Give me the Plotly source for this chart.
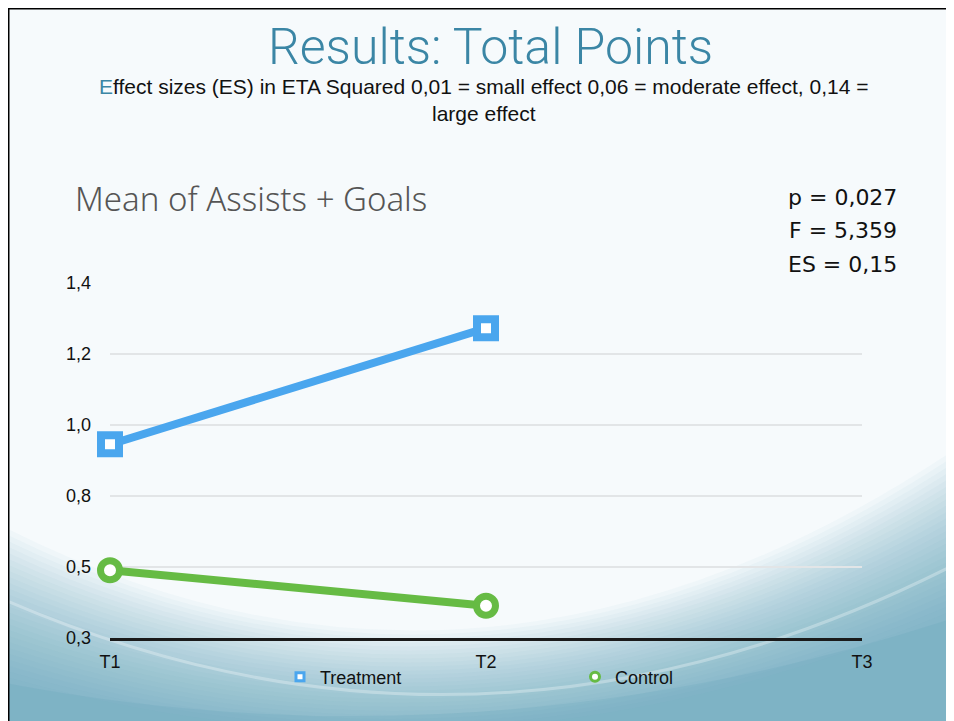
import plotly.graph_objects as go

# data
time_points = ["T1", "T2", "T3"]
treatment_x = ["T1", "T2"]
treatment = [0.90, 1.26]
control_x = ["T1", "T2"]
control = [0.51, 0.40]
y_tick_vals = [0.30, 0.52, 0.74, 0.96, 1.18, 1.40]
y_tick_text = ["0,3", "0,5", "0,8", "1,0", "1,2", "1,4"]
stats = ["p = 0,027", "F = 5,359", "ES = 0,15"]

# the page body adds an 8px margin, so work in screen pixels and shift
OFF = 8
W, H = 954 - OFF, 721 - OFF
L, R, T, B = 110, 862, 283, 638   # plot area in screen pixels


def px(x):
    return (x - L) / (R - L)


def py(y):
    return (B - y) / (B - T)


def P(x, y):
    return f"{px(x):.4f},{py(y):.4f}"


BLUE = "#4aa6ee"
GREEN = "#66bb44"
TEAL = "#3b86a5"

fig = go.Figure()

fig.add_trace(go.Scatter(
    x=treatment_x, y=treatment, mode="lines+markers", name="Treatment",
    line=dict(color=BLUE, width=8),
    marker=dict(symbol="square", size=18, color="white", line=dict(color=BLUE, width=8)),
    cliponaxis=False, showlegend=False,
))
fig.add_trace(go.Scatter(
    x=control_x, y=control, mode="lines+markers", name="Control",
    line=dict(color=GREEN, width=8),
    marker=dict(symbol="circle", size=19, color="white", line=dict(color=GREEN, width=7)),
    cliponaxis=False, showlegend=False,
))
# legend-only entries (small markers, like the slide)
fig.add_trace(go.Scatter(
    x=[None], y=[None], mode="markers", name="Treatment",
    marker=dict(symbol="square", size=8, color="white", line=dict(color=BLUE, width=3)),
))
fig.add_trace(go.Scatter(
    x=[None], y=[None], mode="markers", name="Control",
    marker=dict(symbol="circle", size=9, color="white", line=dict(color=GREEN, width=3)),
))


def wave(yl, yc, yr):
    # curve from left edge to right edge passing through yc at the middle
    ctrl = (yc - 0.25 * yl - 0.25 * yr) / 0.5
    return f"M {P(0, yl)} Q {P(477, ctrl)} {P(954, yr)}"


# background wave (slide theme), stacked thin bands to fake a gradient
shapes = []
top, bot, n = (525, 628, 450), (675, 728, 610), 26
for i in range(n):
    f = i / (n - 1)
    yl, yc, yr = [a + (b - a) * f for a, b in zip(top, bot)]
    shapes.append(dict(
        type="path", xref="paper", yref="paper", layer="below",
        path=wave(yl, yc, yr) + f" L {P(954, 721)} L {P(0, 721)} Z",
        fillcolor="rgba(100,165,190,0.045)", line=dict(width=0),
    ))
shapes.append(dict(
    type="path", xref="paper", yref="paper", layer="below",
    path=wave(682, 712, 618) + f" L {P(954, 721)} L {P(0, 721)} Z",
    fillcolor="rgba(95,160,185,0.18)", line=dict(width=0),
))
shapes.append(dict(
    type="path", xref="paper", yref="paper", layer="below",
    path=wave(598, 694, 565),
    line=dict(color="rgba(255,255,255,0.3)", width=3),
))
# slide border
shapes.append(dict(type="line", xref="paper", yref="paper",
                   x0=px(0), x1=px(954), y0=py(OFF), y1=py(OFF),
                   line=dict(color="black", width=3)))
shapes.append(dict(type="line", xref="paper", yref="paper",
                   x0=px(OFF), x1=px(OFF), y0=py(OFF), y1=py(721),
                   line=dict(color="black", width=3)))

annotations = [
    dict(text="Results: Total Points", x=px(490), y=py(47), xref="paper", yref="paper",
         showarrow=False, xanchor="center", yanchor="middle",
         font=dict(family="Roboto", size=50, color=TEAL, weight=300)),
    dict(text=f"<span style='color:{TEAL}'>E</span>ffect sizes (ES) in ETA Squared 0,01 = small effect 0,06 = moderate effect, 0,14 =",
         x=px(483), y=py(86), xref="paper", yref="paper", showarrow=False,
         xanchor="center", yanchor="middle",
         font=dict(family="Liberation Sans", size=21, color="#111")),
    dict(text="large effect", x=px(484), y=py(113), xref="paper", yref="paper",
         showarrow=False, xanchor="center", yanchor="middle",
         font=dict(family="Liberation Sans", size=21, color="#111")),
    dict(text="Mean of Assists + Goals", x=px(73), y=py(198), xref="paper", yref="paper",
         showarrow=False, xanchor="left", yanchor="middle",
         font=dict(family="Noto Sans", size=33, color="#555555", weight=300)),
]
for i, s in enumerate(stats):
    annotations.append(dict(
        text=s, x=px(899), y=py(197 + 33.5 * i), xref="paper", yref="paper",
        showarrow=False, xanchor="right", yanchor="middle",
        font=dict(family="DejaVu Sans", size=22, color="#111"),
    ))

fig.update_layout(
    width=W, height=H,
    margin=dict(l=L - OFF, r=954 - R, t=T - OFF, b=721 - B),
    paper_bgcolor="#f6fafc",
    plot_bgcolor="rgba(0,0,0,0)",
    xaxis=dict(
        type="category", categoryorder="array", categoryarray=time_points,
        range=[0, 2], showgrid=False, zeroline=False,
        showline=True, linecolor="#1a1a1a", linewidth=3,
        ticks="", ticklabelstandoff=5,
        tickfont=dict(family="Liberation Sans", size=18, color="#111"),
    ),
    yaxis=dict(
        range=[0.3, 1.4], tickvals=y_tick_vals, ticktext=y_tick_text,
        showgrid=True, gridcolor="#e2e5e7", gridwidth=2, zeroline=False,
        ticks="", ticklabelstandoff=18,
        tickfont=dict(family="Liberation Sans", size=18, color="#111"),
    ),
    legend=dict(
        orientation="h", x=px(280), y=py(677), xanchor="left", yanchor="middle",
        bgcolor="rgba(0,0,0,0)", entrywidth=250, entrywidthmode="pixels",
        font=dict(family="Liberation Sans", size=18, color="#111"),
        itemsizing="trace",
    ),
    shapes=shapes,
    annotations=annotations,
)

fig.write_html("out.html")
